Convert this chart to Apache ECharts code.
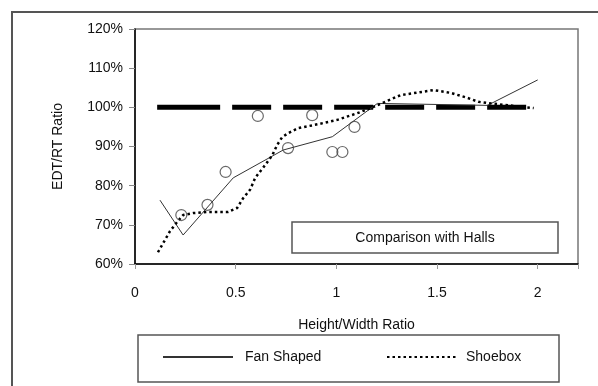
<!DOCTYPE html>
<html>
<head>
<meta charset="utf-8">
<script src="https://cdn.jsdelivr.net/npm/echarts@6/dist/echarts.min.js"></script>
<style>
html,body{margin:0;padding:0;background:#fff;}
#chart{width:598px;height:386px;}
</style>
</head>
<body>
<div id="chart"></div>
<script>
// ---- data ----
var xTicks = [0, 0.5, 1, 1.5, 2];
var yTicks = [60, 70, 80, 90, 100, 110, 120];
var hallsRef = [[0.11, 100], [2.0, 100]];
var fanShaped = [[0.124, 76.3], [0.239, 67.4], [0.488, 82.0], [0.736, 89.1], [0.98, 92.5], [1.204, 101.0], [1.75, 100.5], [2.0, 107.0]];
var shoebox = [[0.114, 63.0], [0.174, 68.4], [0.209, 70.7], [0.239, 72.5], [0.289, 73.0], [0.358, 73.3], [0.463, 73.3], [0.507, 74.3], [0.537, 76.8], [0.572, 79.0], [0.597, 82.0], [0.647, 85.3], [0.682, 87.8], [0.706, 90.4], [0.731, 92.4], [0.761, 93.4], [0.811, 94.7], [0.91, 95.7], [1.005, 96.8], [1.104, 98.5], [1.184, 100.1], [1.318, 103.1], [1.483, 104.4], [1.567, 103.7], [1.652, 102.4], [1.706, 101.4], [1.751, 101.1], [1.98, 99.8]];
var halls = [[0.23, 72.5], [0.36, 75.1], [0.45, 83.5], [0.61, 97.8], [0.76, 89.6], [0.88, 98.0], [0.98, 88.6], [1.03, 88.6], [1.09, 95.0]];

var FONT = 'Liberation Sans';
var chart = echarts.init(document.getElementById('chart'), null, {renderer: 'canvas'});
var refDash = [63, 12, 39, 12, 39, 12, 39, 12, 39, 12, 39, 12, 39, 12, 39, 12];
var option = {
  animation: false,
  backgroundColor: '#fff',
  color: ['#000', '#333', '#000', '#444'],
  textStyle: {fontFamily: FONT},
  grid: {left: 135, top: 29, right: 20, bottom: 122, show: true, borderColor: '#777', borderWidth: 1.5, backgroundColor: 'transparent'},
  xAxis: {
    type: 'value', min: 0, max: 2.2, interval: 0.5,
    name: 'Height/Width Ratio', nameLocation: 'middle', nameGap: 54,
    nameTextStyle: {fontFamily: FONT, fontSize: 14, color: '#111'},
    axisLine: {lineStyle: {color: '#000', width: 1.5}},
    axisTick: {show: true, length: 5, lineStyle: {color: '#999'}},
    axisLabel: {margin: 22, fontFamily: FONT, fontSize: 14, color: '#111',
      formatter: function (v) { return xTicks.indexOf(Math.round(v * 100) / 100) >= 0 ? String(v) : ''; }},
    splitLine: {show: false}
  },
  yAxis: {
    type: 'value', min: yTicks[0], max: yTicks[yTicks.length - 1], interval: 10,
    name: 'EDT/RT Ratio', nameLocation: 'middle', nameGap: 70, nameRotate: 90,
    nameTextStyle: {fontFamily: FONT, fontSize: 14, color: '#111'},
    axisLine: {lineStyle: {color: '#000', width: 1.5}},
    axisTick: {show: true, length: 6, lineStyle: {color: '#888'}},
    axisLabel: {margin: 12, fontFamily: FONT, fontSize: 14, color: '#111', formatter: '{value}%'},
    splitLine: {show: false}
  },
  legend: [
    {data: ['Fan Shaped'], left: 162, top: 350, itemWidth: 70, itemHeight: 14, padding: 0,
      itemStyle: {opacity: 0},
      textStyle: {fontFamily: FONT, fontSize: 14, color: '#111', padding: [0, 0, 0, 7]}},
    {data: ['Shoebox'], left: 386, top: 350, itemWidth: 70, itemHeight: 14, padding: 0,
      itemStyle: {opacity: 0},
      textStyle: {fontFamily: FONT, fontSize: 14, color: '#111', padding: [0, 0, 0, 4]}}
  ],
  series: [
    {name: 'Halls', type: 'line', data: hallsRef, symbol: 'none', z: 1,
      itemStyle: {color: '#000'},
      lineStyle: {color: '#000', width: 5, type: refDash}},
    {name: 'Fan Shaped', type: 'line', data: fanShaped, symbol: 'none', z: 2,
      itemStyle: {color: '#333'},
      lineStyle: {color: '#333', width: 1}},
    {name: 'Shoebox', type: 'line', data: shoebox, symbol: 'none', z: 3,
      itemStyle: {color: '#000'},
      lineStyle: {color: '#000', width: 2.5, type: [2.5, 3]}},
    {name: 'Halls data', type: 'scatter', data: halls, symbol: 'circle', symbolSize: 11, z: 4,
      itemStyle: {color: 'rgba(255,255,255,0)', borderColor: '#444', borderWidth: 1.2}}
  ],
  graphic: [
    {type: 'rect', shape: {x: 12, y: 12, width: 600, height: 400}, style: {fill: 'none', stroke: '#555', lineWidth: 2}, z: -1},
    {type: 'rect', shape: {x: 138, y: 335, width: 421, height: 47}, style: {fill: 'none', stroke: '#555', lineWidth: 1.5}, z: 10},
    {type: 'group', z: 100, children: [
      {type: 'rect', shape: {x: 292, y: 222, width: 266, height: 31}, style: {fill: '#fff', stroke: '#555', lineWidth: 1.5}, z: 100},
      {type: 'text', x: 425, y: 238, style: {text: 'Comparison with Halls', fontFamily: FONT, fontSize: 14, fill: '#111', align: 'center', verticalAlign: 'middle'}, z: 101}
    ]}
  ]
};
chart.setOption(option);
</script>
</body>
</html>
